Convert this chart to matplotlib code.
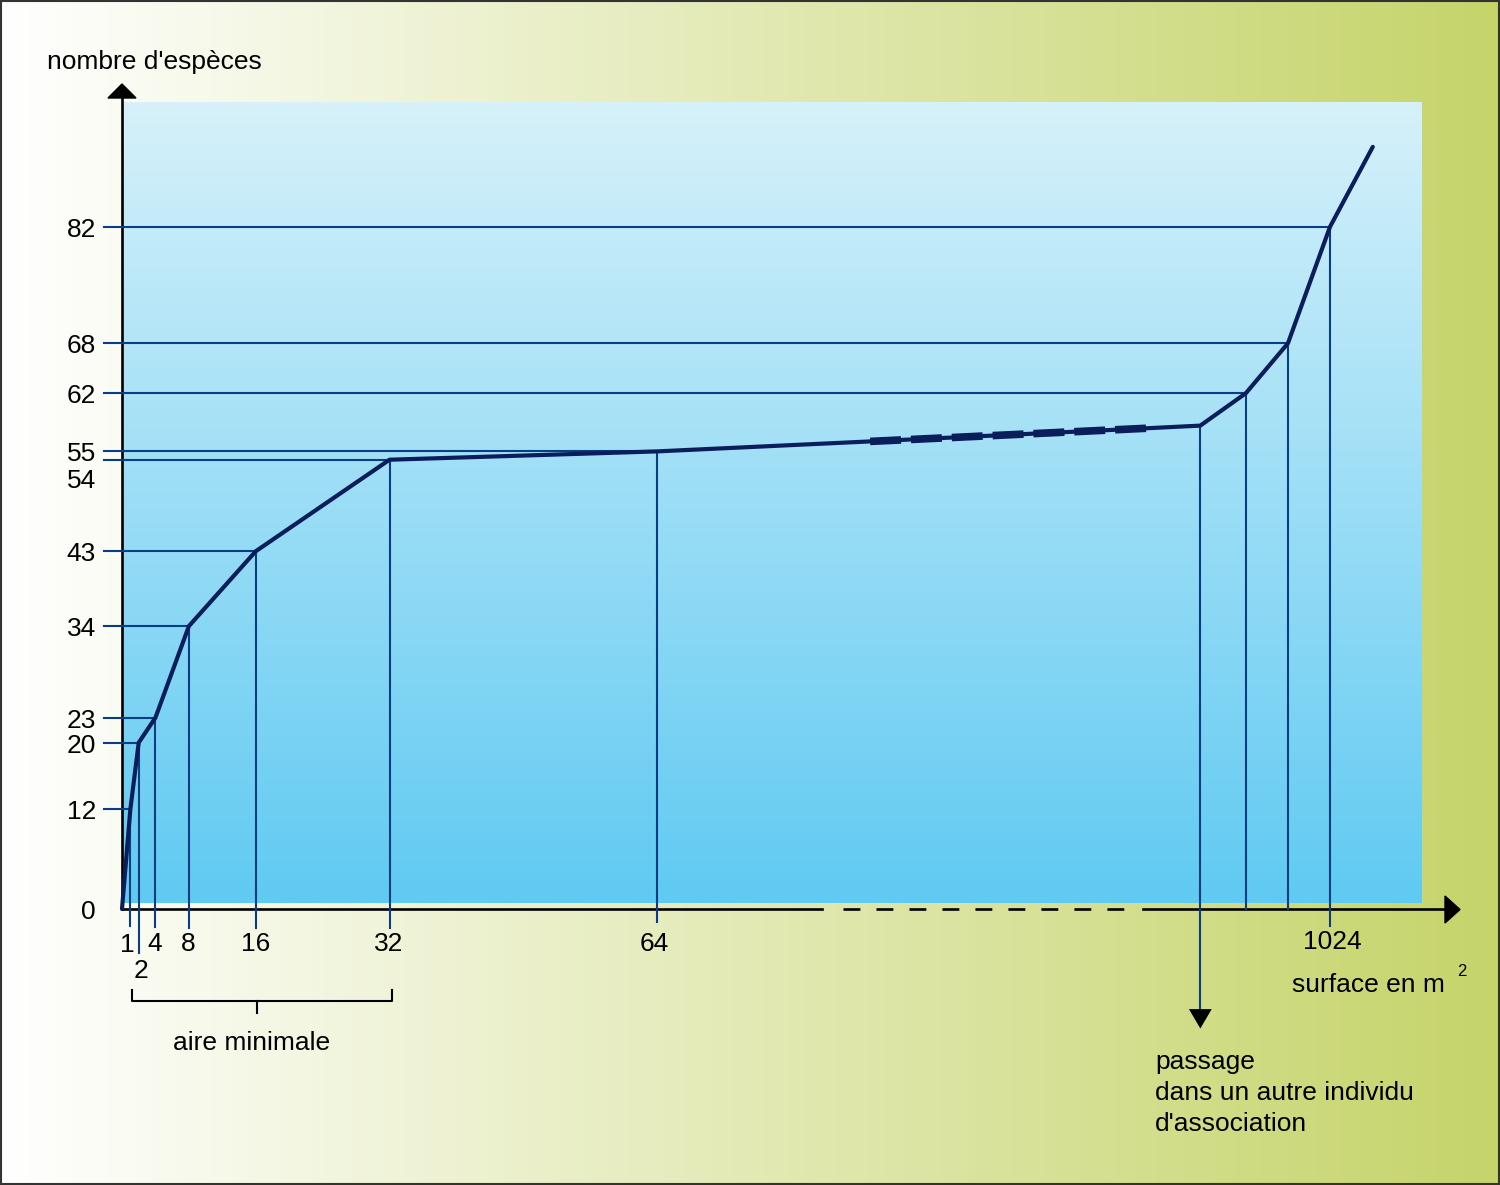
import numpy as np
import matplotlib.pyplot as plt
from matplotlib.patches import Polygon, Rectangle

plt.rcParams['font.family'] = ['Liberation Sans', 'DejaVu Sans']

# courbe aire-espèces : surface (m2) et nombre d'espèces
surface = [0, 1, 2, 4, 8, 16, 32, 64, 368, 767, 839, 904, 964, 1024, 1085]
especes = [0, 12, 20, 23, 34, 43, 54, 55, 56.2, 57.8, 58.1, 62, 68, 82, 91.6]

# graduations
x_ticks = [1, 2, 4, 8, 16, 32, 64, 1024]
y_ticks = [0, 12, 20, 23, 34, 43, 54, 55, 62, 68, 82]

# points reliés aux axes par des traits de rappel
rappel_h = [1, 2, 3, 4, 5, 6, 7, 11, 12, 13]          # indices -> trait horizontal
rappel_v = [1, 2, 3, 4, 5, 6, 7, 10, 11, 12, 13]      # indices -> trait vertical
pointille = [8, 9]                                     # partie en tirets de la courbe

W, H = 1500, 1185
fig = plt.figure(figsize=(W / 100, H / 100), dpi=100)

# ---- fond (coordonnées en pixels)
bg = fig.add_axes([0, 0, 1, 1])
bg.set_xlim(0, W)
bg.set_ylim(H, 0)
bg.axis('off')
c0 = np.array([1.0, 1.0, 1.0])
c1 = np.array([198, 212, 106]) / 255
t = np.linspace(0, 1, 256)[None, :, None]
bg.imshow(c0 + (c1 - c0) * t, extent=(0, W, H, 0), aspect='auto', interpolation='bilinear')
b0 = np.array([214, 241, 250]) / 255
b1 = np.array([96, 202, 242]) / 255
tb = np.linspace(0, 1, 256)[:, None, None]
bg.imshow(b0 + (b1 - b0) * tb, extent=(122, 1422, 903, 102), aspect='auto', interpolation='bilinear')
bg.add_patch(Rectangle((1, 1), W - 2, H - 2, fill=False, ec='#333333', lw=1.5))
bg.set_xlim(0, W)
bg.set_ylim(H, 0)

# axes flèchés
ax_col = 'black'
bg.plot([122, 122], [909, 98], color=ax_col, lw=1.9)
bg.add_patch(Polygon([(108, 98), (136, 98), (122, 84)], closed=True, color=ax_col))
bg.plot([122, 822], [909, 909], color=ax_col, lw=1.9)
bg.plot([843, 1125], [909, 909], color=ax_col, lw=1.9, linestyle=(0, (6.4, 6.1)))
bg.plot([1143, 1447], [909, 909], color=ax_col, lw=1.9)
bg.add_patch(Polygon([(1445, 896), (1445, 923), (1460, 909.5)], closed=True, color=ax_col))

# accolade "aire minimale"
bg.plot([132, 132, 392, 392], [990, 1001, 1001, 990], color=ax_col, lw=1.5)
bg.plot([257, 257], [1001, 1013], color=ax_col, lw=1.5)

fs = 19
bg.text(47, 62, "nombre d'espèces", fontsize=fs, va='center', ha='left')
bg.text(1292, 985, "surface en m", fontsize=fs, va='center', ha='left')
bg.text(1462, 971, "2", fontsize=12, va='center', ha='center')
bg.text(252, 1043, "aire minimale", fontsize=fs, va='center', ha='center')
for i, s in enumerate(["passage", "dans un autre individu", "d'association"]):
    bg.text(1155, 1062 + 31 * i, s, fontsize=fs, va='center', ha='left')

# ---- données : axe x coupé après 64
C = 80.5 / 960


def fwd(a):
    a = np.asarray(a, float)
    return np.where(a <= 64, a, 64 + (a - 64) * C)


def inv(p):
    p = np.asarray(p, float)
    return np.where(p <= 64, p, 64 + (p - 64) / C)


ax = fig.add_axes([0, 0, 1, 1], zorder=2)
ax.patch.set_visible(False)
ax.axis('off')
ax.set_xscale('function', functions=(fwd, inv))
ax.set_xlim(float(inv(-122 / 8.36)), float(inv((W - 122) / 8.36)))
ax.set_ylim(-(H - 909) / 8.32, 909 / 8.32)

ref_col = '#0b3d82'
x_left = -2.15
for i in rappel_h:
    ax.plot([x_left, surface[i]], [especes[i], especes[i]], color=ref_col, lw=1.5)

bas = {1: -2.0, 2: -5.3, 4: -2.2, 8: -2.3, 16: -2.3, 32: -2.3, 64: -1.6,
       839: -12.5, 904: 0, 964: 0, 1024: -2.1}
for i in rappel_v:
    ax.plot([surface[i], surface[i]], [especes[i], bas[surface[i]]], color=ref_col, lw=1.5)

# flèche "passage dans un autre individu"
fleche = surface[10]
ax.annotate('', xy=(fleche, -14.7), xytext=(fleche, -12.3),
            arrowprops=dict(arrowstyle='-|>,head_length=1.4,head_width=0.82', color='black', lw=0))

curve_col = '#0b1e5b'
ax.plot(surface, especes, color=curve_col, lw=3, solid_capstyle='round', solid_joinstyle='round')
ax.plot([surface[i] for i in pointille], [especes[i] for i in pointille],
        color=curve_col, lw=5.5, linestyle=(0, (4.05, 1.3)))

# étiquettes des graduations
x_off = {1: (-3, -36), 2: (2, -62), 4: (-1, -35), 8: (-1, -35), 16: (0, -35),
         32: (-1, -35), 64: (-3, -35), 1024: (2, -33)}
for v in x_ticks:
    ax.annotate(str(v), xy=(v, 0), xytext=x_off[v], textcoords='offset pixels',
                ha='center', va='center', fontsize=fs)
for v in y_ticks:
    dy = -21 if v == 54 else -3
    ax.annotate(str(v), xy=(0, v), xytext=(-26, dy), textcoords='offset pixels',
                ha='right', va='center', fontsize=fs)

fig.savefig('out.png', dpi=100)
